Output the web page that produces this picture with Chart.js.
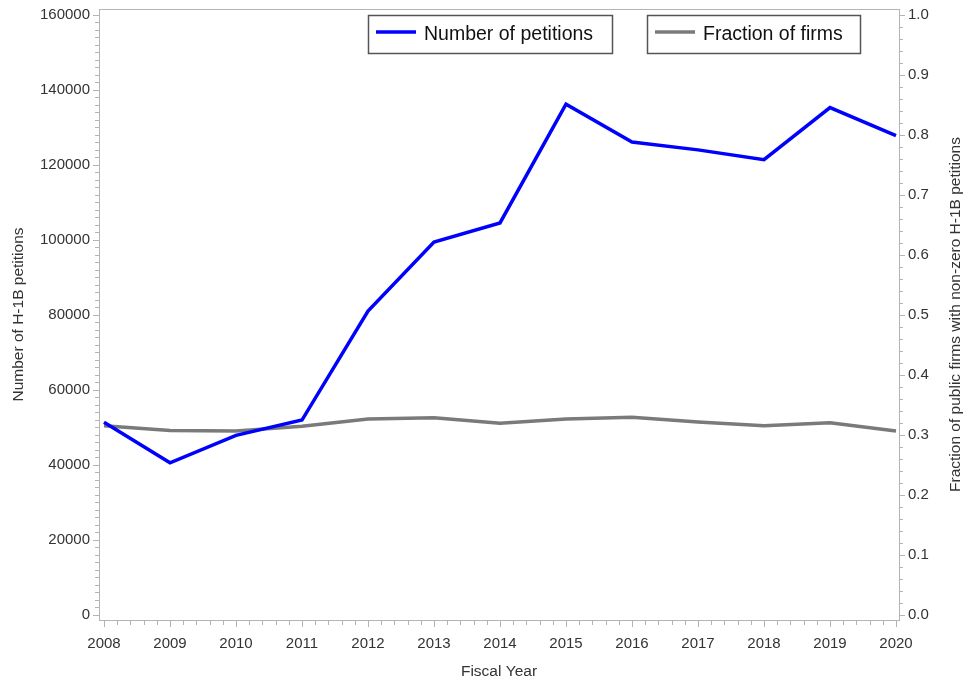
<!DOCTYPE html>
<html>
<head>
<meta charset="utf-8">
<script src="https://cdn.jsdelivr.net/npm/chart.js@4/dist/chart.umd.min.js"></script>
<style>
  html, body { margin: 0; padding: 0; background: #fff; }
  #wrap { width: 964px; height: 685px; }
</style>
</head>
<body>
<div id="wrap"><canvas id="c" width="964" height="685"></canvas></div>
<script>
// Fiscal years on the x axis
const years = [2008, 2009, 2010, 2011, 2012, 2013, 2014, 2015, 2016, 2017, 2018, 2019, 2020];
// Number of H-1B petitions (left axis)
const petitions = [51300, 40500, 47800, 51900, 81000, 99400, 104500, 136200, 126100, 124000, 121400, 135300, 127800];
// Fraction of public firms with non-zero H-1B petitions (right axis)
const fraction = [0.315, 0.307, 0.306, 0.314, 0.326, 0.328, 0.319, 0.326, 0.329, 0.321, 0.315, 0.320, 0.306];
// Tick labels
const leftTicks = [0, 20000, 40000, 60000, 80000, 100000, 120000, 140000, 160000];
const rightTicks = [0, 0.1, 0.2, 0.3, 0.4, 0.5, 0.6, 0.7, 0.8, 0.9, 1.0];

const AXIS_COLOR = '#b4b4b4';
const TEXT_COLOR = '#333333';
const FONT = '"Liberation Sans", Arial, sans-serif';

// fixed axis sizes, no extra room for edge labels
const fixVertical = w => s => { s.width = w; s.paddingTop = 0; s.paddingBottom = 0; };
const fixHorizontal = h => s => { s.height = h; s.paddingLeft = 0; s.paddingRight = 0; };

// Minor/major tick marks, top frame line, right title and boxed legend
const frameTicks = {
  id: 'frameTicks',
  afterDraw(chart) {
    const ctx = chart.ctx;
    const a = chart.chartArea;
    const x = chart.scales.x, yl = chart.scales.y, yr = chart.scales.y1;
    ctx.save();
    ctx.strokeStyle = AXIS_COLOR;
    ctx.lineWidth = 1;
    ctx.beginPath();
    ctx.moveTo(a.left, a.top + 0.5);
    ctx.lineTo(a.right, a.top + 0.5);
    // x: minor every 0.2 year
    for (let i = 0; i <= (years.length - 1) * 5; i++) {
      const v = years[0] + i / 5;
      const px = Math.round(x.getPixelForValue(v)) + 0.5;
      const len = i % 5 === 0 ? 7 : 5;
      ctx.moveTo(px, a.bottom);
      ctx.lineTo(px, a.bottom + len);
    }
    // left: minor every 2000
    for (let i = 0; i <= 80; i++) {
      const py = Math.round(yl.getPixelForValue(i * 2000)) + 0.5;
      const len = i % 10 === 0 ? 6 : 4;
      ctx.moveTo(a.left, py);
      ctx.lineTo(a.left - len, py);
    }
    // right: minor every 0.02
    for (let i = 0; i <= 50; i++) {
      const py = Math.round(yr.getPixelForValue(i * 0.02)) + 0.5;
      const len = i % 5 === 0 ? 6 : 4;
      ctx.moveTo(a.right, py);
      ctx.lineTo(a.right + len, py);
    }
    ctx.stroke();

    // right axis title, reading bottom to top
    ctx.fillStyle = TEXT_COLOR;
    ctx.font = '15.5px ' + FONT;
    ctx.textAlign = 'center';
    ctx.textBaseline = 'middle';
    ctx.translate(956, (a.top + a.bottom) / 2);
    ctx.rotate(-Math.PI / 2);
    ctx.fillText('Fraction of public firms with non-zero H-1B petitions', 0, 0);
    ctx.restore();

    // boxed legend entries
    const boxes = [
      { ds: 0, x: 368, w: 244 },
      { ds: 1, x: 647, w: 213 }
    ];
    ctx.save();
    boxes.forEach(b => {
      const ds = chart.data.datasets[b.ds];
      ctx.strokeStyle = '#555555';
      ctx.lineWidth = 1.5;
      ctx.strokeRect(b.x + 0.5, 15.5, b.w, 38);
      ctx.strokeStyle = ds.borderColor;
      ctx.lineWidth = 3.5;
      ctx.beginPath();
      ctx.moveTo(b.x + 8, 32);
      ctx.lineTo(b.x + 48, 32);
      ctx.stroke();
      ctx.fillStyle = '#111111';
      ctx.font = '19.5px ' + FONT;
      ctx.textAlign = 'left';
      ctx.textBaseline = 'middle';
      ctx.fillText(ds.label, b.x + 56, 35);
    });
    ctx.restore();
  }
};

new Chart(document.getElementById('c'), {
  type: 'line',
  data: {
    datasets: [
      {
        label: 'Number of petitions',
        data: years.map((y, i) => ({ x: y, y: petitions[i] })),
        borderColor: '#0000ff',
        borderWidth: 3.5,
        pointRadius: 0,
        tension: 0,
        yAxisID: 'y'
      },
      {
        label: 'Fraction of firms',
        data: years.map((y, i) => ({ x: y, y: fraction[i] })),
        borderColor: '#7a7a7a',
        borderWidth: 3.5,
        pointRadius: 0,
        tension: 0,
        yAxisID: 'y1'
      }
    ]
  },
  options: {
    responsive: false,
    animation: false,
    layout: { padding: { top: 9, left: 0, right: 0, bottom: 0 } },
    plugins: { legend: { display: false }, tooltip: { enabled: false } },
    scales: {
      x: {
        type: 'linear',
        min: 2008 - 5 / 66,
        max: 2020 + 3 / 66,
        afterBuildTicks: s => { s.ticks = years.map(v => ({ value: v })); },
        afterFit: fixHorizontal(65),
        grid: { display: false, drawTicks: false, tickLength: 0 },
        border: { display: true, color: AXIS_COLOR },
        ticks: {
          color: TEXT_COLOR,
          font: { family: FONT, size: 15 },
          padding: 15,
          maxRotation: 0,
          autoSkip: false,
          callback: v => String(v)
        },
        title: {
          display: true,
          text: 'Fiscal Year',
          color: TEXT_COLOR,
          font: { family: FONT, size: 15.5 },
          padding: { top: 0, bottom: 4 }
        }
      },
      y: {
        position: 'left',
        min: -1467,
        max: 161600,
        afterBuildTicks: s => { s.ticks = leftTicks.map(v => ({ value: v })); },
        afterFit: fixVertical(99),
        grid: { display: false, drawTicks: false, tickLength: 0 },
        border: { display: true, color: AXIS_COLOR },
        ticks: {
          color: TEXT_COLOR,
          font: { family: FONT, size: 15 },
          padding: 9,
          autoSkip: false,
          callback: v => String(v)
        },
        title: {
          display: true,
          text: 'Number of H-1B petitions',
          color: TEXT_COLOR,
          font: { family: FONT, size: 15.5 },
          padding: { top: 9, bottom: 0 }
        }
      },
      y1: {
        position: 'right',
        min: -0.00917,
        max: 1.01,
        afterBuildTicks: s => { s.ticks = rightTicks.map(v => ({ value: v })); },
        afterFit: fixVertical(65),
        grid: { display: false, drawTicks: false, tickLength: 0 },
        border: { display: true, color: AXIS_COLOR },
        ticks: {
          color: TEXT_COLOR,
          font: { family: FONT, size: 15 },
          padding: 9,
          autoSkip: false,
          callback: v => Number(v).toFixed(1)
        }
      }
    }
  },
  plugins: [frameTicks]
});
</script>
</body>
</html>
